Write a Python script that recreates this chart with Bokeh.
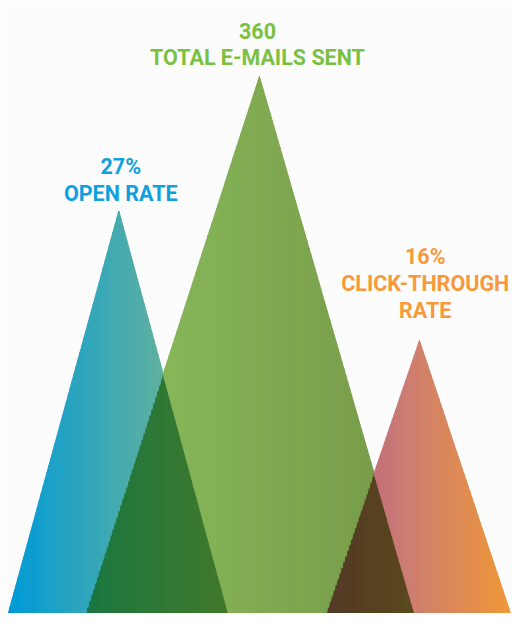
import numpy as np
from bokeh.plotting import figure
from bokeh.models import Range1d, ColumnDataSource
from bokeh.embed import file_html
from bokeh.resources import INLINE
from bokeh.core.properties import value

# ---------------- data ----------------
metric_values = ["27%", "360", "16%"]
metric_labels = ["OPEN RATE", "TOTAL E-MAILS SENT", "CLICK-THROUGH\nRATE"]
peak_heights = [413, 551, 280]          # visual height of each triangle

# ---------------- layout / style ----------------
apex_x = [122, 267, 432]
base_left = [8, 88, 336]
base_right = [235, 427, 526]
label_x = [124, 265, 438]
label_bottom = [431, 570, 311]          # baseline of last text line (data y)
line_gap = 27.5
text_colors = ["#10A0DC", "#7AC143", "#F7993B"]
gradient_stops = [
    [(8, (0, 155, 216)), (235, (136, 186, 136))],
    [(88, (140, 192, 94)), (427, (118, 152, 72))],
    [(336, (180, 95, 130)), (420, (205, 125, 115)), (527, (240, 152, 55))],
]
overlap_dark = 0.95

n = len(peak_heights)


def h(i, x):
    L, A, R, H = base_left[i], apex_x[i], base_right[i], peak_heights[i]
    if x <= L or x >= R:
        return 0.0
    if x <= A:
        return H * (x - L) / (A - L)
    return H * (R - x) / (R - A)


def grad(i, x):
    stops = gradient_stops[i]
    xs = [s[0] for s in stops]
    return np.array([np.interp(x, xs, [s[1][c] for s in stops]) for c in range(3)])


# breakpoints: regular grid + apexes + base ends + crossings
bp = set(np.arange(8, 529.01, 2.0).tolist())
bp.update(apex_x)
bp.update(base_left)
bp.update(base_right)
fine = np.arange(8, 529, 0.05)
for i in range(n):
    for j in range(i + 1, n):
        d = np.array([h(i, x) - h(j, x) for x in fine])
        both = np.array([h(i, x) > 0 and h(j, x) > 0 for x in fine])
        s = np.sign(d)
        for k in range(len(fine) - 1):
            if both[k] and both[k + 1] and s[k] != s[k + 1]:
                x0, x1 = fine[k], fine[k + 1]
                xc = x0 + (x1 - x0) * d[k] / (d[k] - d[k + 1])
                bp.add(float(xc))
grid = sorted(bp)

pxs, pys, pcol = [], [], []
for x0, x1 in zip(grid[:-1], grid[1:]):
    if x1 - x0 < 1e-6:
        continue
    xm = 0.5 * (x0 + x1)
    cov = [i for i in range(n) if h(i, xm) > 0]
    if not cov:
        continue
    order = sorted(cov, key=lambda i: h(i, xm))
    b0, b1 = 0.0, 0.0
    for k, i in enumerate(order):
        active = order[k:]
        t0, t1 = h(i, x0), h(i, x1)
        col = np.array([255.0, 255.0, 255.0])
        for a in active:
            col = col * grad(a, xm) / 255.0
        if len(active) > 1:
            col = col * overlap_dark
        col = np.clip(col, 0, 255).astype(int)
        pxs.append([x0, x1, x1, x0])
        pys.append([b0, b1, t1, t0])
        pcol.append("#%02x%02x%02x" % tuple(col))
        b0, b1 = t0, t1

p = figure(width=513, height=613, output_backend="svg", toolbar_location=None,
           x_range=Range1d(0, 529), y_range=Range1d(0, 629), min_border=0)
p.axis.visible = False
p.grid.visible = False
p.outline_line_color = None
p.background_fill_color = "#FCFCFC"
p.border_fill_color = "#FCFCFC"

src = ColumnDataSource(dict(xs=pxs, ys=pys, c=pcol))
p.patches("xs", "ys", source=src, fill_color="c", line_color="c", line_width=1.0)

tx, ty, tt, tc = [], [], [], []
for i in range(n):
    lines = [metric_values[i]] + metric_labels[i].split("\n")
    m = len(lines)
    for k, ln in enumerate(lines):
        tx.append(label_x[i])
        ty.append(label_bottom[i] + (m - 1 - k) * line_gap)
        tt.append(ln)
        tc.append(text_colors[i])
tsrc = ColumnDataSource(dict(x=tx, y=ty, t=tt, c=tc))
p.text("x", "y", text="t", source=tsrc, text_color="c", text_align="center",
       text_baseline="alphabetic", text_font=value("Roboto"),
       text_font_style="bold", text_font_size="21.5px")

open("out.html", "w").write(file_html(p, INLINE))
